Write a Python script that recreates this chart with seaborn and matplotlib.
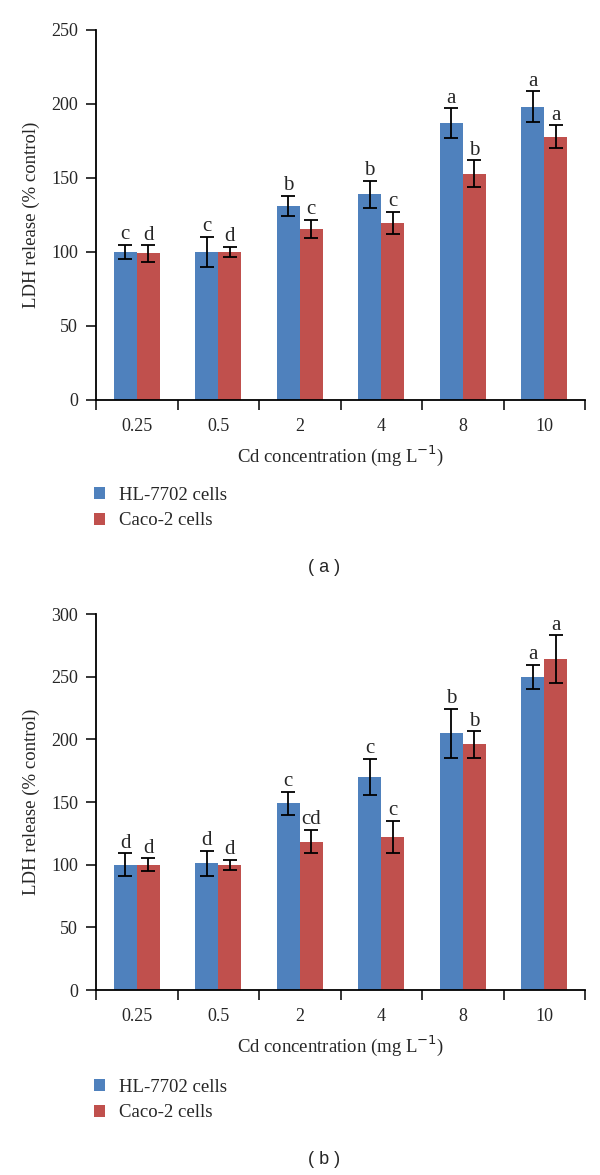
import pandas as pd
import seaborn as sns
import matplotlib.pyplot as plt
from matplotlib.ticker import FixedLocator, NullFormatter

sns.set_style("white")
plt.rcParams["font.family"] = ["Liberation Serif", "DejaVu Serif"]

# data
conc = ["0.25", "0.5", "2", "4", "8", "10"]
cells = ["HL-7702 cells", "Caco-2 cells"]

# panel (a)
a_hl = [100, 100, 131, 139, 187, 198]
a_hl_err = [5, 10, 7, 9, 10, 10.5]
a_hl_lab = ["c", "c", "b", "b", "a", "a"]
a_caco = [99, 100, 115.5, 119.5, 153, 178]
a_caco_err = [5.5, 3.5, 6, 7.5, 9, 7.5]
a_caco_lab = ["d", "d", "c", "c", "b", "a"]

# panel (b)
b_hl = [100, 101, 149, 170, 205, 250]
b_hl_err = [9, 10, 9, 14.5, 19.5, 9.5]
b_hl_lab = ["d", "d", "c", "c", "b", "a"]
b_caco = [100, 100, 118.5, 122, 196, 264]
b_caco_err = [5, 4, 9.5, 13, 10.5, 19]
b_caco_lab = ["d", "d", "cd", "c", "b", "a"]

colors = ["#4F81BD", "#C0504D"]


def draw_panel(fig, ax, hl, hl_err, hl_lab, caco, caco_err, caco_lab, ymax, leg_top):
    df = pd.DataFrame({
        "conc": conc * 2,
        "cell": [cells[0]] * 6 + [cells[1]] * 6,
        "value": hl + caco,
    })
    sns.barplot(data=df, x="conc", y="value", hue="cell", palette=colors,
                width=0.57, gap=0, errorbar=None, saturation=1,
                edgecolor="none", ax=ax)

    errs = [hl_err, caco_err]
    labs = [hl_lab, caco_lab]
    vals = [hl, caco]
    bar_conts = list(ax.containers)
    for k, cont in enumerate(bar_conts):
        xs = [p.get_x() + p.get_width() / 2 for p in cont.patches]
        ax.errorbar(xs, vals[k], yerr=errs[k], fmt="none", ecolor="black",
                    elinewidth=1.3, capsize=4.7, capthick=1.3, zorder=3)
        for x, v, e, t in zip(xs, vals[k], errs[k], labs[k]):
            ax.annotate(t, (x, v + e), xytext=(0, 0.5), textcoords="offset points",
                        ha="center", va="bottom", fontsize=15)

    ax.set_xlim(-0.5, 5.5)
    ax.set_ylim(0, ymax)
    ax.set_yticks(range(0, ymax + 1, 50))
    # category ticks sit on the boundaries, labels in the middle
    ax.xaxis.set_major_locator(FixedLocator([i - 0.5 for i in range(7)]))
    ax.xaxis.set_major_formatter(NullFormatter())
    ax.xaxis.set_minor_locator(FixedLocator(range(6)))
    ax.set_xticklabels(conc, minor=True)
    ax.tick_params(axis="x", which="minor", length=0, pad=13, labelsize=13)
    ax.tick_params(axis="x", which="major", length=7, width=1.3, direction="out",
                   bottom=True)
    ax.tick_params(axis="y", length=7, width=1.3, direction="out", left=True,
                   labelsize=13, pad=6)
    sns.despine(ax=ax)
    for s in ["left", "bottom"]:
        ax.spines[s].set_color("black")
        ax.spines[s].set_linewidth(1.3)

    ax.set_xlabel("Cd concentration (mg L$^{-1}$)", fontsize=13.5, labelpad=6)
    ax.set_ylabel("LDH release (% control)", fontsize=13.5)
    ax.yaxis.set_label_coords(-0.115, 0.5)

    sns.move_legend(ax, "upper left", bbox_to_anchor=(94 / 600, 1 - leg_top / 1175),
                    bbox_transform=fig.transFigure,
                    title=None, frameon=False, fontsize=13.5,
                    borderpad=0, borderaxespad=0,
                    handlelength=0.6, handleheight=0.6, handletextpad=0.75,
                    labelspacing=0.45)


fig = plt.figure(figsize=(6, 11.75), dpi=100)
ax_a = fig.add_axes([0.16, 0.6596, 0.815, 0.3149])
ax_b = fig.add_axes([0.16, 0.1574, 0.815, 0.32])

draw_panel(fig, ax_a, a_hl, a_hl_err, a_hl_lab, a_caco, a_caco_err, a_caco_lab,
           250, 487)
draw_panel(fig, ax_b, b_hl, b_hl_err, b_hl_lab, b_caco, b_caco_err, b_caco_lab,
           300, 1079)

fig.text(0.54, 1 - 568 / 1175, "( a )", ha="center", va="center",
         fontsize=13, family="Liberation Sans")
fig.text(0.54, 1 - 1160 / 1175, "( b )", ha="center", va="center",
         fontsize=13, family="Liberation Sans")

fig.savefig("out.png", dpi=100)
